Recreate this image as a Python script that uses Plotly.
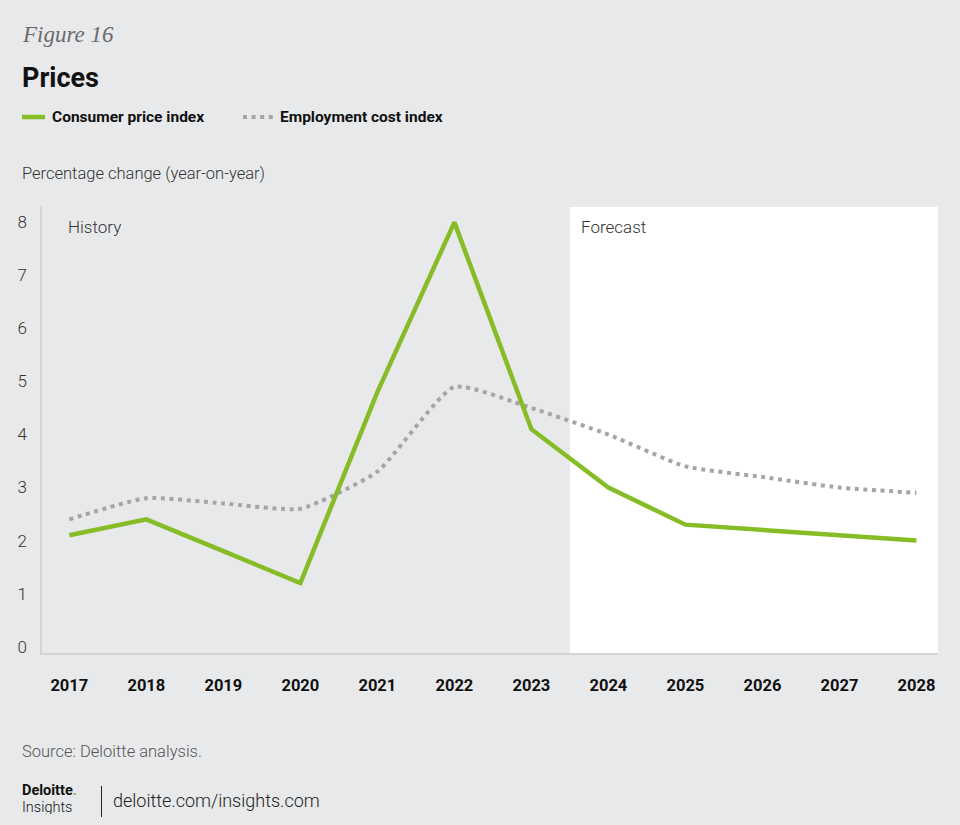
import plotly.graph_objects as go

years = [2017, 2018, 2019, 2020, 2021, 2022, 2023, 2024, 2025, 2026, 2027, 2028]
cpi = [2.1, 2.4, 1.8, 1.2, 4.8, 8.0, 4.1, 3.0, 2.3, 2.2, 2.1, 2.0]
eci = [2.4, 2.8, 2.7, 2.6, 3.3, 4.9, 4.5, 4.0, 3.4, 3.2, 3.0, 2.9]
y_ticks = [0, 1, 2, 3, 4, 5, 6, 7, 8]
forecast_start = 2023.5

GREEN = "#86BC25"
GREY = "#A5A5A7"
BG = "#E8E9EB"

W, H = 960, 825
L, R, T, B = 42, 22, 207, 172
PW, PH = W - L - R, H - T - B


def px(x):
    return (x - L) / PW


def py(y):
    return (H - B - y) / PH


fig = go.Figure()
fig.add_trace(go.Scatter(
    x=years, y=eci, mode="lines", name="Employment cost index",
    line=dict(color=GREY, width=4, dash="4px,4.6px", shape="spline", smoothing=0.5),
    hoverinfo="x+y",
))
fig.add_trace(go.Scatter(
    x=years, y=cpi, mode="lines", name="Consumer price index",
    line=dict(color=GREEN, width=4.5),
    hoverinfo="x+y",
))

x_min, x_max = 2016.645, 2028.28

shapes = [
    dict(type="rect", xref="x", yref="paper", x0=forecast_start, x1=x_max, y0=0, y1=1,
         fillcolor="white", line=dict(width=0), layer="below"),
    # legend marks
    dict(type="line", xref="paper", yref="paper", x0=px(22), x1=px(45), y0=py(117), y1=py(117),
         line=dict(color=GREEN, width=4.5)),
    dict(type="line", xref="paper", yref="paper", x0=px(243), x1=px(275), y0=py(117), y1=py(117),
         line=dict(color=GREY, width=4, dash="4px,4.6px")),
    # footer divider
    dict(type="line", xref="paper", yref="paper", x0=px(101.5), x1=px(101.5), y0=py(786), y1=py(817),
         line=dict(color="#222", width=1)),
]

ann = []


def text(x, y, s, size, color="#222", family="Roboto", weight=None, style=None, xanchor="left", height=None):
    f = dict(size=size, color=color, family=family)
    if weight:
        f["weight"] = weight
    if style:
        f["style"] = style
    a = dict(xref="paper", yref="paper", x=px(x), y=py(y), text=s, showarrow=False,
             xanchor=xanchor, yanchor="middle", font=f)
    if height:
        a["height"] = height
    ann.append(a)


text(20, 34, "Figure 16", 23, color="#6b6b6b", family="Liberation Serif", style="italic")
text(20, 78, "<b>Prices</b>", 27, color="#111", family="Roboto", weight=900)
text(50, 117, "<b>Consumer price index</b>", 15.5, color="#111")
text(278, 117, "<b>Employment cost index</b>", 15.5, color="#111")
text(20, 173, "Percentage change (year-on-year)", 16.5, color="#333", weight=300)
text(66, 227, "History", 17, color="#333", weight=300)
text(579, 227, "Forecast", 17, color="#333", weight=300)
text(20, 751, "Source: Deloitte analysis.", 16.5, color="#555", weight=300)
text(20, 790, "<b>Deloitte</b><span style='color:#86BC25'><b>.</b></span>", 14.5, color="#111", height=13)
text(20, 807, "Insights", 14.5, color="#111", weight=300, height=13)
text(111, 800, "deloitte.com/insights.com", 18, color="#222", weight=300)

fig.update_layout(
    width=W, height=H,
    margin=dict(l=L, r=R, t=T, b=B),
    paper_bgcolor=BG, plot_bgcolor=BG,
    showlegend=False,
    shapes=shapes, annotations=ann,
    xaxis=dict(
        range=[x_min, x_max], tickmode="array", tickvals=years, ticktext=[str(y) for y in years],
        showgrid=False, zeroline=False, showline=True, linecolor="#D2D3D5", linewidth=1.5,
        ticks="", ticklabelstandoff=16,
        tickfont=dict(family="Roboto", size=16.5, color="#111", weight="bold"),
    ),
    yaxis=dict(
        range=[-0.12, 8.29], tickmode="array", tickvals=y_ticks,
        showgrid=False, zeroline=False, showline=True, linecolor="#D2D3D5", linewidth=1.5,
        ticks="", ticklabelstandoff=10,
        tickfont=dict(family="Roboto", size=17, color="#333", weight=300),
    ),
)

fig.write_html("out.html", config={"displayModeBar": False},
               post_script="document.body.style.margin='0';document.body.style.background='#E8E9EB';")
